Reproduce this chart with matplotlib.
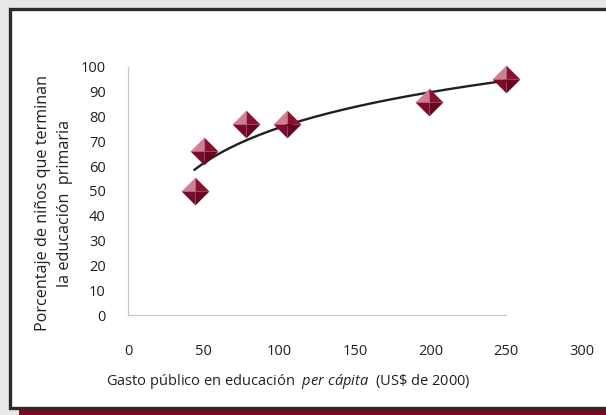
import numpy as np
import matplotlib
matplotlib.use("Agg")
import matplotlib.pyplot as plt
from matplotlib.path import Path
from matplotlib.patches import Rectangle

# Data
gasto = [44, 50, 78, 105, 199, 250]
porcentaje = [50, 66, 77, 77, 86, 95]
x_ticks = [0, 50, 100, 150, 200, 250, 300]
y_ticks = [0, 10, 20, 30, 40, 50, 60, 70, 80, 90, 100]

plt.rcParams['font.family'] = ['Open Sans', 'DejaVu Sans']
plt.rcParams['mathtext.fontset'] = 'custom'
plt.rcParams['mathtext.rm'] = 'Open Sans'
plt.rcParams['mathtext.it'] = 'Open Sans:italic'

W, H = 606, 415
fig = plt.figure(figsize=(W / 100, H / 100), dpi=100)
fig.patch.set_facecolor('#e6e7e8')

# white panel with dark border
fig.patches.append(Rectangle((19 / W, 0), 1, 6 / H, transform=fig.transFigure,
                             facecolor='#7b0a25', edgecolor='none', zorder=-2))
fig.patches.append(Rectangle((9.5 / W, (H - 407.5) / H), 1, 398 / H, transform=fig.transFigure,
                             facecolor='white', edgecolor='#2b2b2b', linewidth=2.4, zorder=-1))

ax = fig.add_axes([128 / W, (H - 315) / H, 454 / W, 248 / H])
ax.set_zorder(1)
ax.set_facecolor('none')
ax.set_xlim(0, 300)
ax.set_ylim(0, 100)
for s in ['top', 'right']:
    ax.spines[s].set_visible(False)
ax.spines['left'].set_color('#c8c8c8')
ax.spines['bottom'].set_color('#c8c8c8')
ax.spines['left'].set_linewidth(0.9)
ax.spines['bottom'].set_linewidth(0.9)
ax.spines['bottom'].set_bounds(0, 250)
ax.set_xticks(x_ticks)
ax.set_yticks(y_ticks)
ax.tick_params(axis='both', length=0, labelsize=10.5, colors='#231f20')
ax.tick_params(axis='x', pad=21)
ax.tick_params(axis='y', pad=16)
for lab in ax.get_yticklabels():
    lab.set_horizontalalignment('right')

# logarithmic trend line
lx = np.log(np.array(gasto, dtype=float))
b, a = np.polyfit(lx, np.array(porcentaje, dtype=float), 1)
xs = np.linspace(min(gasto), max(gasto), 200)
ax.plot(xs, a + b * np.log(xs), color='#231f20', lw=1.7, zorder=2, clip_on=False)

# pyramid-shaded diamond markers
faces = {
    'tl': ([(-1, 0), (0, 1), (0, 0), (-1, 0)], '#c98290'),
    'tr': ([(0, 1), (1, 0), (0, 0), (0, 1)], '#8a1131'),
    'bl': ([(-1, 0), (0, 0), (0, -1), (-1, 0)], '#7c0a28'),
    'br': ([(0, 0), (1, 0), (0, -1), (0, 0)], '#6a0420'),
}
for verts, col in faces.values():
    ax.plot(gasto, porcentaje, ls='none', marker=Path(verts), ms=20,
            markerfacecolor=col, markeredgewidth=0, zorder=3, clip_on=False)

fig.text(288 / W, (H - 381) / H,
         r"Gasto público en educación  $\mathit{per\ cápita}$  (US\$ de 2000)",
         ha='center', va='center', fontsize=10.5, color='#231f20')
fig.text(43 / W, (H - 203) / H, "Porcentaje de niños que terminan",
         rotation=90, ha='center', va='center', fontsize=11.6, color='#231f20')
fig.text(65 / W, (H - 203) / H, "la educación  primaria",
         rotation=90, ha='center', va='center', fontsize=11.6, color='#231f20')

fig.savefig('out.png', dpi=100, facecolor=fig.get_facecolor())
